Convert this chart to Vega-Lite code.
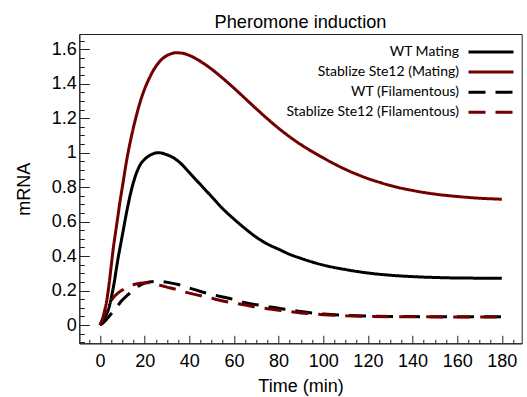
{
  "$schema": "https://vega.github.io/schema/vega-lite/v6.json",
  "autosize": {"type": "none"},
  "width": 442.4,
  "height": 309.3,
  "padding": {"left": 79.3, "top": 34, "right": 5.3, "bottom": 53.7},
  "background": "white",
  "title": {"text": "Pheromone induction", "font": "Liberation Sans", "fontSize": 18.2, "fontWeight": "normal", "color": "black", "offset": 0, "anchor": "middle"},
  "config": {
    "view": {"stroke": "#222", "strokeWidth": 1},
    "axis": {"grid": false, "domainColor": "#222", "tickColor": "#222", "labelColor": "black", "titleColor": "black", "labelFont": "Liberation Sans", "titleFont": "Liberation Sans", "labelFontSize": 18, "titleFontSize": 18, "titleFontWeight": "normal", "labelFlush": false, "labelOverlap": false},
    "legend": {"labelFont": "Lato", "labelFontSize": 14, "labelColor": "black"}
  },
  "data": {"values": [
    {"t":0,"v":0,"s":"WT Mating"},{"t":2,"v":0.04,"s":"WT Mating"},{"t":4,"v":0.1,"s":"WT Mating"},{"t":6,"v":0.22,"s":"WT Mating"},{"t":8,"v":0.38,"s":"WT Mating"},{"t":10,"v":0.52,"s":"WT Mating"},{"t":12,"v":0.66,"s":"WT Mating"},{"t":14,"v":0.78,"s":"WT Mating"},{"t":16,"v":0.87,"s":"WT Mating"},{"t":18,"v":0.93,"s":"WT Mating"},{"t":20,"v":0.962,"s":"WT Mating"},{"t":22,"v":0.982,"s":"WT Mating"},{"t":24,"v":0.995,"s":"WT Mating"},{"t":26,"v":1.0,"s":"WT Mating"},{"t":28,"v":0.997,"s":"WT Mating"},{"t":30,"v":0.988,"s":"WT Mating"},{"t":33,"v":0.97,"s":"WT Mating"},{"t":36,"v":0.94,"s":"WT Mating"},{"t":40,"v":0.885,"s":"WT Mating"},{"t":45,"v":0.815,"s":"WT Mating"},{"t":50,"v":0.745,"s":"WT Mating"},{"t":55,"v":0.675,"s":"WT Mating"},{"t":60,"v":0.615,"s":"WT Mating"},{"t":65,"v":0.56,"s":"WT Mating"},{"t":70,"v":0.51,"s":"WT Mating"},{"t":75,"v":0.47,"s":"WT Mating"},{"t":80,"v":0.44,"s":"WT Mating"},{"t":85,"v":0.41,"s":"WT Mating"},{"t":90,"v":0.387,"s":"WT Mating"},{"t":95,"v":0.366,"s":"WT Mating"},{"t":100,"v":0.348,"s":"WT Mating"},{"t":110,"v":0.322,"s":"WT Mating"},{"t":120,"v":0.302,"s":"WT Mating"},{"t":130,"v":0.289,"s":"WT Mating"},{"t":140,"v":0.281,"s":"WT Mating"},{"t":150,"v":0.276,"s":"WT Mating"},{"t":160,"v":0.273,"s":"WT Mating"},{"t":170,"v":0.272,"s":"WT Mating"},{"t":180,"v":0.271,"s":"WT Mating"},
    {"t":0,"v":0,"s":"Stablize Ste12 (Mating)"},{"t":1,"v":0.03,"s":"Stablize Ste12 (Mating)"},{"t":2,"v":0.08,"s":"Stablize Ste12 (Mating)"},{"t":3,"v":0.14,"s":"Stablize Ste12 (Mating)"},{"t":4,"v":0.23,"s":"Stablize Ste12 (Mating)"},{"t":5,"v":0.34,"s":"Stablize Ste12 (Mating)"},{"t":6,"v":0.45,"s":"Stablize Ste12 (Mating)"},{"t":7,"v":0.54,"s":"Stablize Ste12 (Mating)"},{"t":8,"v":0.63,"s":"Stablize Ste12 (Mating)"},{"t":9,"v":0.72,"s":"Stablize Ste12 (Mating)"},{"t":10,"v":0.8,"s":"Stablize Ste12 (Mating)"},{"t":12,"v":0.96,"s":"Stablize Ste12 (Mating)"},{"t":14,"v":1.09,"s":"Stablize Ste12 (Mating)"},{"t":16,"v":1.2,"s":"Stablize Ste12 (Mating)"},{"t":18,"v":1.295,"s":"Stablize Ste12 (Mating)"},{"t":20,"v":1.37,"s":"Stablize Ste12 (Mating)"},{"t":22,"v":1.43,"s":"Stablize Ste12 (Mating)"},{"t":24,"v":1.48,"s":"Stablize Ste12 (Mating)"},{"t":26,"v":1.518,"s":"Stablize Ste12 (Mating)"},{"t":28,"v":1.546,"s":"Stablize Ste12 (Mating)"},{"t":30,"v":1.564,"s":"Stablize Ste12 (Mating)"},{"t":32,"v":1.575,"s":"Stablize Ste12 (Mating)"},{"t":34,"v":1.58,"s":"Stablize Ste12 (Mating)"},{"t":36,"v":1.579,"s":"Stablize Ste12 (Mating)"},{"t":38,"v":1.574,"s":"Stablize Ste12 (Mating)"},{"t":40,"v":1.565,"s":"Stablize Ste12 (Mating)"},{"t":45,"v":1.53,"s":"Stablize Ste12 (Mating)"},{"t":50,"v":1.485,"s":"Stablize Ste12 (Mating)"},{"t":55,"v":1.432,"s":"Stablize Ste12 (Mating)"},{"t":60,"v":1.375,"s":"Stablize Ste12 (Mating)"},{"t":65,"v":1.315,"s":"Stablize Ste12 (Mating)"},{"t":70,"v":1.255,"s":"Stablize Ste12 (Mating)"},{"t":75,"v":1.197,"s":"Stablize Ste12 (Mating)"},{"t":80,"v":1.142,"s":"Stablize Ste12 (Mating)"},{"t":85,"v":1.092,"s":"Stablize Ste12 (Mating)"},{"t":90,"v":1.047,"s":"Stablize Ste12 (Mating)"},{"t":95,"v":1.007,"s":"Stablize Ste12 (Mating)"},{"t":100,"v":0.97,"s":"Stablize Ste12 (Mating)"},{"t":105,"v":0.935,"s":"Stablize Ste12 (Mating)"},{"t":110,"v":0.903,"s":"Stablize Ste12 (Mating)"},{"t":115,"v":0.875,"s":"Stablize Ste12 (Mating)"},{"t":120,"v":0.85,"s":"Stablize Ste12 (Mating)"},{"t":125,"v":0.829,"s":"Stablize Ste12 (Mating)"},{"t":130,"v":0.81,"s":"Stablize Ste12 (Mating)"},{"t":140,"v":0.781,"s":"Stablize Ste12 (Mating)"},{"t":150,"v":0.76,"s":"Stablize Ste12 (Mating)"},{"t":160,"v":0.746,"s":"Stablize Ste12 (Mating)"},{"t":170,"v":0.736,"s":"Stablize Ste12 (Mating)"},{"t":180,"v":0.73,"s":"Stablize Ste12 (Mating)"},
    {"t":0,"v":0,"s":"WT (Filamentous)"},{"t":2,"v":0.02,"s":"WT (Filamentous)"},{"t":4,"v":0.05,"s":"WT (Filamentous)"},{"t":6,"v":0.08,"s":"WT (Filamentous)"},{"t":8,"v":0.113,"s":"WT (Filamentous)"},{"t":10,"v":0.145,"s":"WT (Filamentous)"},{"t":12,"v":0.17,"s":"WT (Filamentous)"},{"t":14,"v":0.192,"s":"WT (Filamentous)"},{"t":16,"v":0.215,"s":"WT (Filamentous)"},{"t":18,"v":0.232,"s":"WT (Filamentous)"},{"t":20,"v":0.243,"s":"WT (Filamentous)"},{"t":22,"v":0.25,"s":"WT (Filamentous)"},{"t":25,"v":0.253,"s":"WT (Filamentous)"},{"t":28,"v":0.252,"s":"WT (Filamentous)"},{"t":31,"v":0.246,"s":"WT (Filamentous)"},{"t":35,"v":0.235,"s":"WT (Filamentous)"},{"t":40,"v":0.215,"s":"WT (Filamentous)"},{"t":45,"v":0.195,"s":"WT (Filamentous)"},{"t":50,"v":0.178,"s":"WT (Filamentous)"},{"t":55,"v":0.163,"s":"WT (Filamentous)"},{"t":60,"v":0.148,"s":"WT (Filamentous)"},{"t":65,"v":0.13,"s":"WT (Filamentous)"},{"t":70,"v":0.118,"s":"WT (Filamentous)"},{"t":75,"v":0.108,"s":"WT (Filamentous)"},{"t":80,"v":0.097,"s":"WT (Filamentous)"},{"t":85,"v":0.088,"s":"WT (Filamentous)"},{"t":90,"v":0.078,"s":"WT (Filamentous)"},{"t":95,"v":0.07,"s":"WT (Filamentous)"},{"t":100,"v":0.064,"s":"WT (Filamentous)"},{"t":110,"v":0.056,"s":"WT (Filamentous)"},{"t":120,"v":0.052,"s":"WT (Filamentous)"},{"t":130,"v":0.05,"s":"WT (Filamentous)"},{"t":140,"v":0.049,"s":"WT (Filamentous)"},{"t":160,"v":0.048,"s":"WT (Filamentous)"},{"t":180,"v":0.048,"s":"WT (Filamentous)"},
    {"t":0,"v":0,"s":"Stablize Ste12 (Filamentous)"},{"t":2,"v":0.06,"s":"Stablize Ste12 (Filamentous)"},{"t":4,"v":0.12,"s":"Stablize Ste12 (Filamentous)"},{"t":6,"v":0.16,"s":"Stablize Ste12 (Filamentous)"},{"t":8,"v":0.185,"s":"Stablize Ste12 (Filamentous)"},{"t":10,"v":0.203,"s":"Stablize Ste12 (Filamentous)"},{"t":12,"v":0.218,"s":"Stablize Ste12 (Filamentous)"},{"t":14,"v":0.23,"s":"Stablize Ste12 (Filamentous)"},{"t":16,"v":0.238,"s":"Stablize Ste12 (Filamentous)"},{"t":18,"v":0.243,"s":"Stablize Ste12 (Filamentous)"},{"t":20,"v":0.245,"s":"Stablize Ste12 (Filamentous)"},{"t":22,"v":0.245,"s":"Stablize Ste12 (Filamentous)"},{"t":24,"v":0.24,"s":"Stablize Ste12 (Filamentous)"},{"t":27,"v":0.23,"s":"Stablize Ste12 (Filamentous)"},{"t":30,"v":0.22,"s":"Stablize Ste12 (Filamentous)"},{"t":34,"v":0.207,"s":"Stablize Ste12 (Filamentous)"},{"t":40,"v":0.185,"s":"Stablize Ste12 (Filamentous)"},{"t":45,"v":0.17,"s":"Stablize Ste12 (Filamentous)"},{"t":50,"v":0.155,"s":"Stablize Ste12 (Filamentous)"},{"t":55,"v":0.14,"s":"Stablize Ste12 (Filamentous)"},{"t":60,"v":0.128,"s":"Stablize Ste12 (Filamentous)"},{"t":65,"v":0.116,"s":"Stablize Ste12 (Filamentous)"},{"t":70,"v":0.104,"s":"Stablize Ste12 (Filamentous)"},{"t":75,"v":0.095,"s":"Stablize Ste12 (Filamentous)"},{"t":80,"v":0.086,"s":"Stablize Ste12 (Filamentous)"},{"t":85,"v":0.078,"s":"Stablize Ste12 (Filamentous)"},{"t":90,"v":0.07,"s":"Stablize Ste12 (Filamentous)"},{"t":95,"v":0.065,"s":"Stablize Ste12 (Filamentous)"},{"t":100,"v":0.06,"s":"Stablize Ste12 (Filamentous)"},{"t":110,"v":0.054,"s":"Stablize Ste12 (Filamentous)"},{"t":120,"v":0.05,"s":"Stablize Ste12 (Filamentous)"},{"t":140,"v":0.048,"s":"Stablize Ste12 (Filamentous)"},{"t":160,"v":0.047,"s":"Stablize Ste12 (Filamentous)"},{"t":180,"v":0.047,"s":"Stablize Ste12 (Filamentous)"}
  ]},
  "mark": {"type": "line", "strokeWidth": 3, "strokeCap": "butt", "interpolate": "monotone", "clip": true},
  "encoding": {
    "x": {"field": "t", "type": "quantitative", "scale": {"domain": [-9.27, 188.9], "nice": false, "zero": false},
      "axis": {"title": "Time (min)", "titlePadding": 3,
        "values": [-5,0,5,10,15,20,25,30,35,40,45,50,55,60,65,70,75,80,85,90,95,100,105,110,115,120,125,130,135,140,145,150,155,160,165,170,175,180,185],
        "labelExpr": "datum.value % 20 === 0 ? datum.label : ''",
        "tickSize": {"condition": {"test": "datum.value % 20 === 0", "value": -8}, "value": -4},
        "labelPadding": 17}},
    "y": {"field": "v", "type": "quantitative", "scale": {"domain": [-0.106, 1.689], "nice": false, "zero": false},
      "axis": {"title": "mRNA", "titlePadding": 18,
        "values": [-0.1,-0.05,0,0.05,0.1,0.15,0.2,0.25,0.3,0.35,0.4,0.45,0.5,0.55,0.6,0.65,0.7,0.75,0.8,0.85,0.9,0.95,1,1.05,1.1,1.15,1.2,1.25,1.3,1.35,1.4,1.45,1.5,1.55,1.6,1.65],
        "labelExpr": "abs(datum.value*5 - round(datum.value*5)) < 0.001 && datum.value >= 0 ? format(datum.value, '~g') : ''",
        "tickSize": {"condition": {"test": "abs(datum.value*5 - round(datum.value*5)) < 0.001", "value": -10}, "value": -5},
        "labelPadding": 13}},
    "color": {"field": "s", "type": "nominal",
      "scale": {"domain": ["WT Mating", "Stablize Ste12 (Mating)", "WT (Filamentous)", "Stablize Ste12 (Filamentous)"], "range": ["#000000", "#730000", "#000000", "#730000"]},
      "legend": {"title": null, "orient": "none", "legendX": 404.7, "legendY": 11, "padding": 0, "symbolType": "M-5,0H5", "symbolStrokeWidth": 3, "symbolSize": 81, "labelAlign": "right", "labelOffset": -39, "rowPadding": 6.1, "labelLimit": 300}},
    "strokeDash": {"field": "s", "type": "nominal",
      "scale": {"domain": ["WT Mating", "Stablize Ste12 (Mating)", "WT (Filamentous)", "Stablize Ste12 (Filamentous)"], "range": [[1,0],[1,0],[17,10],[17,10]]},
      "legend": {"title": null, "orient": "none", "legendX": 404.7, "legendY": 11, "padding": 0, "symbolType": "M-5,0H5", "symbolStrokeWidth": 3, "symbolSize": 81, "labelAlign": "right", "labelOffset": -39, "rowPadding": 6.1, "labelLimit": 300}}
  }
}
